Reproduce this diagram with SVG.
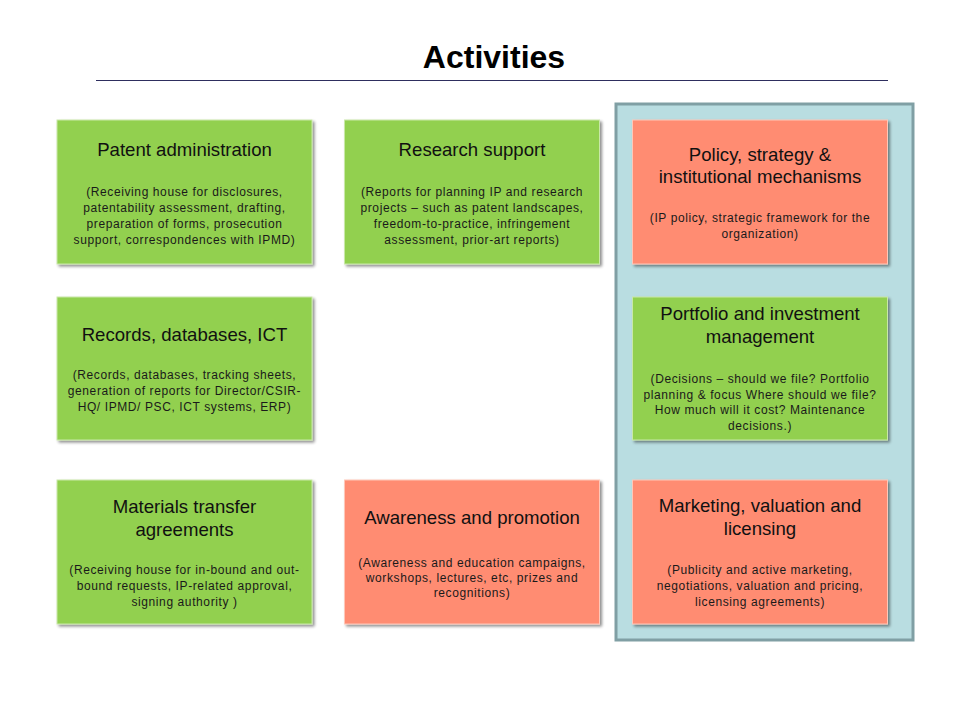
<svg xmlns="http://www.w3.org/2000/svg" width="960" height="720" viewBox="0 0 960 720">
<defs>
<filter id="sh" x="-5%" y="-5%" width="112%" height="115%">
<feGaussianBlur in="SourceAlpha" stdDeviation="1.5"/>
<feOffset dx="1.5" dy="2" result="b"/>
<feComponentTransfer><feFuncA type="linear" slope="0.45"/></feComponentTransfer>
<feMerge><feMergeNode/><feMergeNode in="SourceGraphic"/></feMerge>
</filter>
<style>
.g{fill:#92d050;stroke:#c9e8a8;stroke-width:1}
.r{fill:#ff8c72;stroke:#ffc7b8;stroke-width:1}
.t{font-family:"Liberation Sans",Arial,sans-serif;font-size:18.6px;fill:#111;text-anchor:middle}
.b{font-family:"Liberation Sans",Arial,sans-serif;font-size:12px;letter-spacing:0.6px;fill:#1a1a1a;text-anchor:middle}
</style>
</defs>
<rect width="960" height="720" fill="#ffffff"/>
<text x="494" y="68" font-family="Liberation Sans,Arial,sans-serif" font-size="32" font-weight="bold" text-anchor="middle" fill="#000">Activities</text>
<line x1="96" y1="80.5" x2="888" y2="80.5" stroke="#2e2e5e" stroke-width="1"/>
<rect id="container" x="616" y="104" width="297" height="536" fill="#b9dde1" stroke="#809fa4" stroke-width="3"/>
<g id="connectors"/>
<g id="patent">
<rect class="g" x="57" y="120" width="255" height="144" filter="url(#sh)"/>
<text class="t" x="184.5" y="156">Patent administration</text>
<text class="b" x="184.5" y="196">(Receiving house for disclosures,</text>
<text class="b" x="184.5" y="212">patentability assessment, drafting,</text>
<text class="b" x="184.5" y="228">preparation of forms, prosecution</text>
<text class="b" x="184.5" y="244">support, correspondences with IPMD)</text>
</g>
<g id="research">
<rect class="g" x="344.5" y="120" width="255" height="144" filter="url(#sh)"/>
<text class="t" x="472" y="156">Research support</text>
<text class="b" x="472" y="196">(Reports for planning IP and research</text>
<text class="b" x="472" y="212">projects – such as patent landscapes,</text>
<text class="b" x="472" y="228">freedom-to-practice, infringement</text>
<text class="b" x="472" y="244">assessment, prior-art reports)</text>
</g>
<g id="policy">
<rect class="r" x="632.5" y="120" width="255" height="144" filter="url(#sh)"/>
<text class="t" x="760" y="161">Policy, strategy &amp;</text>
<text class="t" x="760" y="183">institutional mechanisms</text>
<text class="b" x="760" y="222">(IP policy, strategic framework for the</text>
<text class="b" x="760" y="238">organization)</text>
</g>
<g id="records">
<rect class="g" x="57" y="297" width="255" height="143" filter="url(#sh)"/>
<text class="t" x="184.5" y="341">Records, databases, ICT</text>
<text class="b" x="184.5" y="379">(Records, databases, tracking sheets,</text>
<text class="b" x="184.5" y="395">generation of reports for Director/CSIR-</text>
<text class="b" x="184.5" y="411">HQ/ IPMD/ PSC, ICT systems, ERP)</text>
</g>
<g id="portfolio">
<rect class="g" x="632.5" y="297" width="255" height="143" filter="url(#sh)"/>
<text class="t" x="760" y="320">Portfolio and investment</text>
<text class="t" x="760" y="343">management</text>
<text class="b" x="760" y="383">(Decisions – should we file? Portfolio</text>
<text class="b" x="760" y="399">planning &amp; focus Where should we file?</text>
<text class="b" x="760" y="414">How much will it cost? Maintenance</text>
<text class="b" x="760" y="430">decisions.)</text>
</g>
<g id="materials">
<rect class="g" x="57" y="480" width="255" height="144" filter="url(#sh)"/>
<text class="t" x="184.5" y="513">Materials transfer</text>
<text class="t" x="184.5" y="536">agreements</text>
<text class="b" x="184.5" y="574">(Receiving house for in-bound and out-</text>
<text class="b" x="184.5" y="590">bound requests, IP-related approval,</text>
<text class="b" x="184.5" y="606">signing authority )</text>
</g>
<g id="awareness">
<rect class="r" x="344.5" y="480" width="255" height="144" filter="url(#sh)"/>
<text class="t" x="472" y="524">Awareness and promotion</text>
<text class="b" x="472" y="567">(Awareness and education campaigns,</text>
<text class="b" x="472" y="582">workshops, lectures, etc, prizes and</text>
<text class="b" x="472" y="597">recognitions)</text>
</g>
<g id="marketing">
<rect class="r" x="632.5" y="480" width="255" height="144" filter="url(#sh)"/>
<text class="t" x="760" y="512">Marketing, valuation and</text>
<text class="t" x="760" y="535">licensing</text>
<text class="b" x="760" y="574">(Publicity and active marketing,</text>
<text class="b" x="760" y="590">negotiations, valuation and pricing,</text>
<text class="b" x="760" y="606">licensing agreements)</text>
</g>
</svg>
